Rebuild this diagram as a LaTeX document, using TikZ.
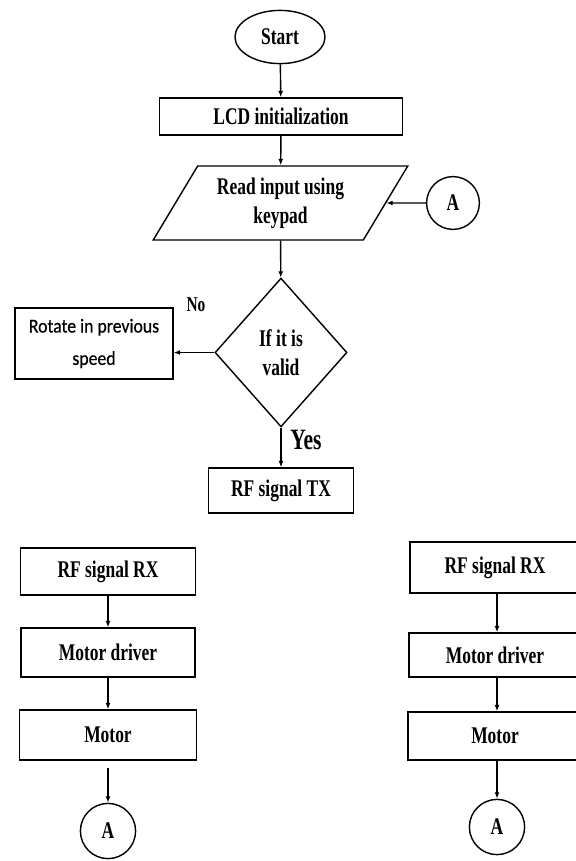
\documentclass[tikz,border=0pt]{standalone}
\usepackage{fontspec}
\setmainfont{Liberation Serif}[FakeStretch=0.73]
\newfontfamily\rotfont{Carlito}[FakeStretch=0.9, FakeBold=0.6]
\usetikzlibrary{shapes.geometric, arrows.meta, positioning}
\tikzset{
  txt/.style={font=\bfseries\fontsize{17}{20.5}\selectfont},
  blk/.style={rectangle, draw=black, line width=1pt, align=center, txt, inner sep=2pt},
  term/.style={ellipse, draw=black, line width=1pt, txt, minimum width=2.25cm, minimum height=1.33cm, inner sep=0pt},
  io/.style={trapezium, trapezium left angle=56, trapezium right angle=124, trapezium stretches=true, draw=black, line width=1pt, align=center, txt, minimum width=6.375cm, minimum height=1.85cm, inner sep=0pt},
  decision/.style={diamond, draw=black, line width=1pt, align=center, txt, minimum width=3.3cm, minimum height=3.72cm, inner sep=0pt},
  conn/.style={circle, draw=black, line width=1pt, txt, minimum size=1.32cm, inner sep=0pt},
  lab/.style={font=\bfseries\fontsize{15}{17}\selectfont},
  arr/.style={-{Latex[length=4.5pt,width=3.5pt]}, line width=1pt},
}
\begin{document}
\begin{tikzpicture}[x=0.025cm, y=-0.025cm]
  \useasboundingbox (0,0) rectangle (576,861);
  % transmitter side
  \node[term] (start) at (280,37) {Start};
  \node[blk, minimum width=6.075cm, minimum height=0.925cm] (lcd) at (281,116.5) {LCD initialization};
  \node[io] (read) at (280.5,203) {Read input using\\keypad};
  \node[conn] (cona) at (453,203) {A};
  \node[decision] (valid) at (281,352.5) {If it is\\valid};
  \node[blk, minimum width=3.95cm, minimum height=1.775cm, font=\rotfont\fontsize{14}{23}\selectfont] (rot) at (94,343.5) {Rotate in previous\\speed};
  \node[blk, minimum width=3.625cm, minimum height=1.125cm] (tx) at (281,490.5) {RF signal TX};
  \node[lab] (no) at (196,305) {No};
  \node[lab, font=\bfseries\fontsize{21}{24}\selectfont] (yes) at (306,440) {Yes};
  % receiver, left
  \node[blk, minimum width=4.375cm, minimum height=1.175cm] (lrx) at (108,571.5) {RF signal RX};
  \node[blk, minimum width=4.35cm, minimum height=1.225cm] (ldrv) at (108,652.5) {Motor driver};
  \node[blk, minimum width=4.425cm, minimum height=1.25cm] (lmot) at (108,735) {Motor};
  \node[conn, minimum size=1.38cm] (lcon) at (108,831) {A};
  % receiver, right
  \node[blk, minimum width=4.25cm, minimum height=1.275cm] (rrx) at (495,567.5) {RF signal RX};
  \node[blk, minimum width=4.3cm, minimum height=1.1cm] (rdrv) at (495,655) {Motor driver};
  \node[blk, minimum width=4.35cm, minimum height=1.2cm] (rmot) at (495,736) {Motor};
  \node[conn, minimum size=1.38cm] (rcon) at (497,827) {A};

  \draw[arr] (start) -- (lcd);
  \draw[arr] (lcd) -- (read);
  \draw[arr] (cona) -- (read);
  \draw[arr] (read) -- (valid);
  \draw[arr] (valid.west) -- (valid.west -| rot.east);
  \draw[arr] (valid) -- (tx);
  \draw[arr] (lrx) -- (ldrv);
  \draw[arr] (ldrv) -- (lmot);
  \draw[arr] (lmot.south) ++(0,7) coordinate (lm) (lm) -- (lcon);
  \draw[arr] (rrx.south -| rcon) -- (rdrv.north -| rcon);
  \draw[arr] (rdrv.south -| rcon) -- (rmot.north -| rcon);
  \draw[arr] (rmot.south -| rcon) -- (rcon);
\end{tikzpicture}
\end{document}
